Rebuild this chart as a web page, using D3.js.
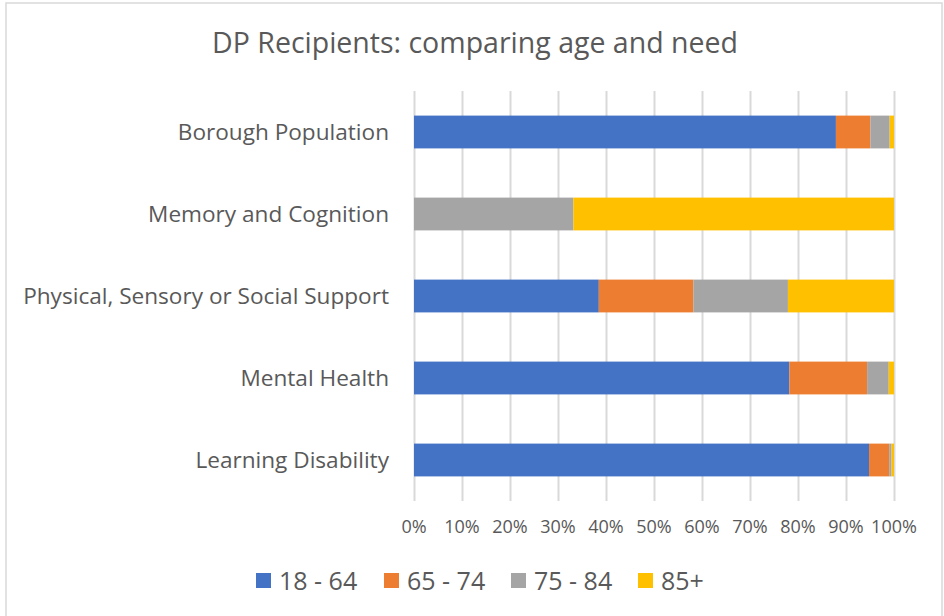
<!DOCTYPE html>
<html>
<head>
<meta charset="utf-8">
<script src="https://cdn.jsdelivr.net/npm/d3@7"></script>
<style>
  body { margin: 0; background: #fff; }
  svg { display: block; }
  text { font-family: "Open Sans", sans-serif; fill: #595959; }
  .grid line { stroke: #d9d9d9; stroke-width: 2; }
  .grid path { display: none; }
</style>
</head>
<body>
<script>
// needs, top to bottom
var categories = ["Borough Population", "Memory and Cognition", "Physical, Sensory or Social Support", "Mental Health", "Learning Disability"];
var ageGroups = ["18 - 64", "65 - 74", "75 - 84", "85+"];
var colours = ["#4472c4", "#ed7d31", "#a5a5a5", "#ffc000"];
// share of each age group, %
var age18to64 = [87.9, 0, 38.5, 78.2, 94.8];
var age65to74 = [7.2, 0, 19.7, 16.2, 4.2];
var age75to84 = [4.0, 33.2, 19.7, 4.5, 0.5];
var age85plus = [0.9, 66.8, 22.1, 1.1, 0.5];
var tickValues = [0, 10, 20, 30, 40, 50, 60, 70, 80, 90, 100];

var width = 944, height = 616;
var margin = {left: 414, right: 50, top: 91, bottom: 115};

var rows = categories.map(function(c, i){
  return {need: c, "18 - 64": age18to64[i], "65 - 74": age65to74[i], "75 - 84": age75to84[i], "85+": age85plus[i]};
});
var series = d3.stack().keys(ageGroups)(rows);

var svg = d3.select("body").append("svg")
  .attr("width", width).attr("height", height);

// chart frame
svg.append("rect")
  .attr("x", 6).attr("y", 3).attr("width", 936).attr("height", 620)
  .attr("fill", "#fff").attr("stroke", "#d9d9d9").attr("stroke-width", 1.5);

var x = d3.scaleLinear().domain([0, 100]).range([margin.left, width - margin.right]);
var y = d3.scaleBand().domain(categories)
  .range([margin.top, height - margin.bottom]).paddingInner(0.6).paddingOuter(0.3);

svg.append("text")
  .attr("x", 475).attr("y", 53)
  .attr("text-anchor", "middle")
  .style("font-size", "28.5px")
  .text("DP Recipients: comparing age and need");

// vertical gridlines
svg.append("g").attr("class", "grid")
  .attr("transform", "translate(0," + margin.top + ")")
  .call(d3.axisBottom(x).tickValues(tickValues).tickSize(height - margin.bottom - margin.top).tickFormat(""));

svg.append("g").selectAll("g")
  .data(series).enter().append("g")
    .attr("fill", function(d, i){ return colours[i]; })
  .selectAll("rect")
  .data(function(d){ return d; }).enter().append("rect")
    .attr("x", function(d){ return x(d[0]); })
    .attr("width", function(d){ return x(d[1]) - x(d[0]); })
    .attr("y", function(d){ return y(d.data.need); })
    .attr("height", y.bandwidth());

// category labels
svg.append("g").selectAll("text")
  .data(categories).enter().append("text")
    .attr("x", 389)
    .attr("y", function(d){ return y(d) + y.bandwidth() / 2; })
    .attr("dy", "0.35em")
    .attr("text-anchor", "end")
    .style("font-size", "22.6px")
    .text(function(d){ return d; });

// percent labels
svg.append("g").selectAll("text")
  .data(tickValues).enter().append("text")
    .attr("x", function(d){ return x(d); })
    .attr("y", 533)
    .attr("text-anchor", "middle")
    .style("font-size", "18px")
    .text(function(d){ return d + "%"; });

// legend
var legendX = [256, 384, 511, 638];
var legend = svg.append("g").selectAll("g")
  .data(ageGroups).enter().append("g")
    .attr("transform", function(d, i){ return "translate(" + legendX[i] + ",573)"; });
legend.append("rect")
  .attr("width", 15).attr("height", 15)
  .attr("fill", function(d, i){ return colours[i]; });
legend.append("text")
  .attr("x", 23).attr("y", 8).attr("dy", "0.35em")
  .style("font-size", "25px")
  .text(function(d){ return d; });
</script>
</body>
</html>
